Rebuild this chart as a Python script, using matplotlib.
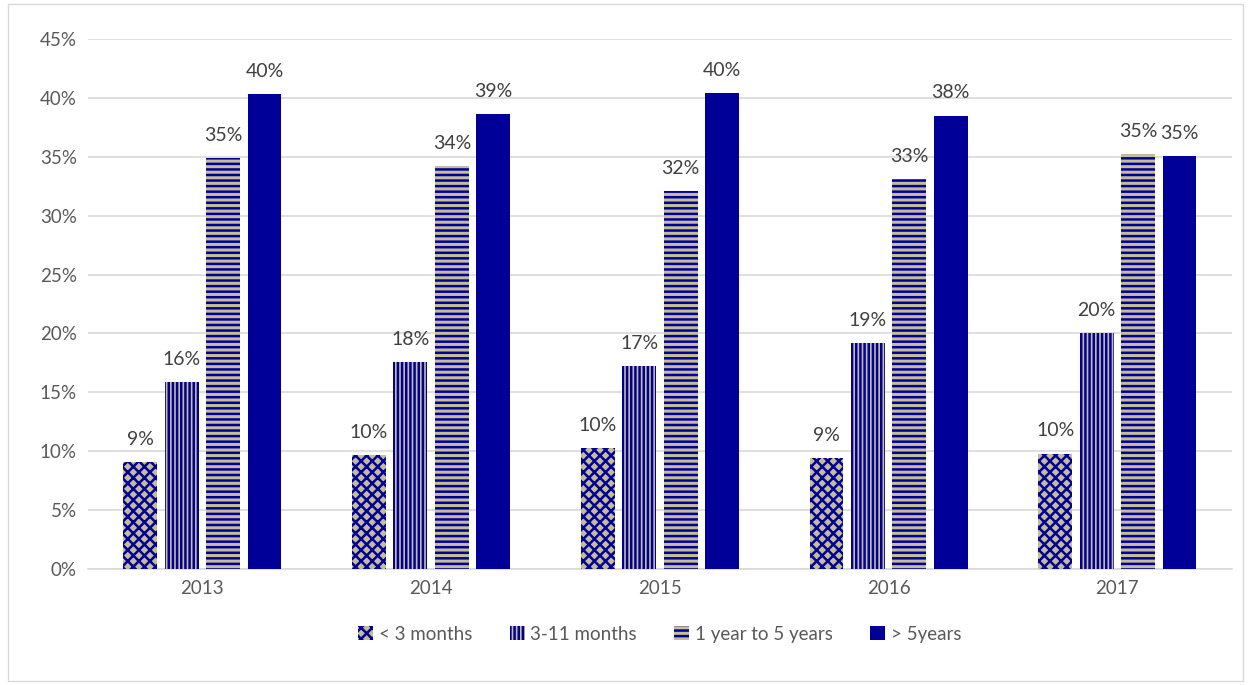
import numpy as np
import matplotlib
matplotlib.use('Agg')
from matplotlib import pyplot as plt
from matplotlib.patches import Rectangle

years = ['2013', '2014', '2015', '2016', '2017']
series = ['< 3 months', '3-11 months', '1 year to 5 years', '> 5years']
lt3m = [9.1, 9.7, 10.3, 9.4, 9.8]
m3_11 = [15.9, 17.6, 17.2, 19.2, 20.0]
y1_5 = [34.9, 34.2, 32.1, 33.1, 35.2]
gt5y = [40.3, 38.6, 40.4, 38.5, 35.1]

navy = '#000099'
tan = '#C4BD97'
grid = '#D9D9D9'
txt = '#595959'

plt.rcParams['font.family'] = ['Lato', 'DejaVu Sans']
plt.rcParams['hatch.linewidth'] = 1.8
plt.rcParams['hatch.color'] = navy

fig = plt.figure(figsize=(12.5, 6.85), dpi=100)
ax = fig.add_axes([0.0704, 0.1693, 0.915, 0.7737])

x = np.arange(len(years))
width = 0.148
step = 0.181
data = [lt3m, m3_11, y1_5, gt5y]
hatches = ['xxx', '||||', '---', None]

for i, (vals, name, h) in enumerate(zip(data, series, hatches)):
    pos = x + (i - 1.5) * step
    if h is None:
        bars = ax.bar(pos, vals, width, color=navy, label=name, zorder=3)
    else:
        bars = ax.bar(pos, vals, width, color=tan, edgecolor=navy, hatch=h,
                      linewidth=0, label=name, zorder=3)
    for b, v in zip(bars, vals):
        ax.text(b.get_x() + b.get_width() / 2, v + 1.2, '%d%%' % round(v),
                ha='center', va='bottom', fontsize=14, color='#404040')

ax.set_ylim(0, 45)
ax.set_xlim(-0.5, 4.5)
ax.set_yticks(range(0, 46, 5))
ax.set_yticklabels(['%d%%' % t for t in range(0, 46, 5)])
ax.set_xticks(x)
ax.set_xticklabels(years)
ax.tick_params(axis='both', length=0, labelsize=13.5, labelcolor=txt, pad=8)
ax.grid(axis='y', color=grid, linewidth=1.2, zorder=0)
for s in ['top', 'right', 'left']:
    ax.spines[s].set_visible(False)
ax.spines['bottom'].set_color(grid)
ax.spines['bottom'].set_linewidth(1.2)

leg = ax.legend(loc='upper center', bbox_to_anchor=(0.5, -0.075), ncol=4,
                frameon=False, fontsize=13.5, handlelength=0.8, handleheight=0.8,
                handletextpad=0.3, columnspacing=2.0)
for t in leg.get_texts():
    t.set_color(txt)

fig.patches.append(Rectangle((0.006, 0.006), 0.988, 0.988, transform=fig.transFigure,
                             fill=False, edgecolor=grid, linewidth=1))

fig.savefig('out.png', dpi=100)
